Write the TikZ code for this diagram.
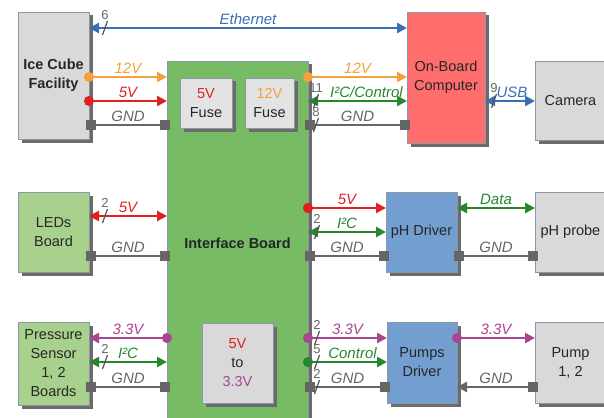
\documentclass[tikz,border=0pt]{standalone}
\usepackage{fontspec}
\setmainfont{Liberation Sans}
\usetikzlibrary{arrows.meta,shadows}
\definecolor{boxgray}{RGB}{217,217,217}
\definecolor{fusegray}{RGB}{227,227,227}
\definecolor{ibgreen}{RGB}{119,188,101}
\definecolor{brdgreen}{RGB}{169,209,142}
\definecolor{obcred}{RGB}{255,109,109}
\definecolor{drvblue}{RGB}{114,159,207}
\definecolor{pwr12}{RGB}{245,160,60}
\definecolor{pwr5}{RGB}{222,34,34}
\definecolor{pwr33}{RGB}{170,70,145}
\definecolor{sig}{RGB}{40,135,45}
\definecolor{net}{RGB}{60,110,180}
\definecolor{gnd}{RGB}{102,102,102}
\definecolor{edge}{RGB}{140,150,168}

\begin{document}
\begin{tikzpicture}[x=1pt, y=-1pt,
  blk/.style={rectangle, draw=edge, fill=#1, inner sep=1pt, outer sep=0pt,
              minimum width=71pt, minimum height=80pt,
              align=center, text=black!85, font=\fontsize{14.5}{19}\selectfont,
              drop shadow={shadow xshift=3.5pt, shadow yshift=-3.5pt, fill=black!58, opacity=1}},
  wr/.style={line width=2.5pt, draw=#1},
  pw/.style={wr=#1, {Circle[length=10pt]}-{Triangle[length=10pt, width=10pt]}, shorten <=-5pt},
  bi/.style={wr=#1, {Triangle[length=10pt, width=10pt]}-{Triangle[length=10pt, width=10pt]}},
  gd/.style={wr=gnd, {Square[length=10pt]}-{Square[length=10pt]}, shorten <=-3pt, shorten >=-3pt},
  lb/.style={above, inner sep=2pt, text=#1, font=\fontsize{15}{15}\selectfont\itshape},
  cnt/.style={text=gnd, inner sep=0pt, font=\fontsize{13}{13}\selectfont},
]
\useasboundingbox (0,0) rectangle (604,417);

% blocks
\node[blk=boxgray, minimum height=127pt, font=\fontsize{14.5}{19}\selectfont\bfseries]
    (ice) at (53.5,75.5) {Ice Cube\\Facility};
\node[blk=ibgreen, minimum width=141pt, minimum height=364pt,
      font=\fontsize{14.5}{19}\selectfont\bfseries] (ib) at (237.5,243) {Interface Board};
\node[blk=fusegray, minimum width=52pt, minimum height=50pt] (f5) at (206,103)
    {\textcolor{pwr5}{5V}\\Fuse};
\node[blk=fusegray, minimum width=49pt, minimum height=50pt] (f12) at (269.5,103)
    {\textcolor{pwr12}{12V}\\Fuse};
\node[blk=boxgray] (cnv) at (237.5,363) {\textcolor{pwr5}{5V}\\to\\\textcolor{pwr33}{3.3V}};
\node[blk=obcred, minimum width=78pt, minimum height=131pt] (obc) at (446,77.5) {On-Board\\Computer};
\node[blk=boxgray, minimum height=79pt] (cam) at (570.5,100.5) {Camera};
\node[blk=brdgreen] (led) at (53.5,232) {LEDs\\Board};
\node[blk=drvblue] (phd) at (421.5,232) {pH Driver};
\node[blk=boxgray] (php) at (570.5,232) {pH probe};
\node[blk=brdgreen, minimum height=83pt] (prs) at (53.5,363.5) {Pressure\\Sensor\\1, 2\\Boards};
\node[blk=drvblue, minimum width=70pt, minimum height=81pt] (pmd) at (422,362.5) {Pumps\\Driver};
\node[blk=boxgray, minimum height=81pt] (pmp) at (570.5,362.5) {Pump\\1, 2};

% top row
\draw[bi=net] (ice.east |- 0,28) -- node[lb=net] {Ethernet} (obc.west |- 0,28);
\draw[pw=pwr12] (ice.east |- 0,77) -- node[lb=pwr12] {12V} (ib.west |- 0,77);
\draw[pw=pwr5] (ice.east |- 0,101) -- node[lb=pwr5] {5V} (ib.west |- 0,101);
\draw[gd] (ice.east |- 0,125) -- node[lb=gnd] {GND} (ib.west |- 0,125);
\draw[pw=pwr12] (ib.east |- 0,77) -- node[lb=pwr12] {12V} (obc.west |- 0,77);
\draw[bi=sig] (ib.east |- 0,101) -- node[lb=sig, xshift=9pt] {I²C/Control} (obc.west |- 0,101);
\draw[gd] (ib.east |- 0,125) -- node[lb=gnd] {GND} (obc.west |- 0,125);
\draw[bi=net] (obc.east |- 0,101) -- node[lb=net, xshift=2pt] {USB} (cam.west |- 0,101);

% middle row
\draw[bi=pwr5] (led.east |- 0,216) -- node[lb=pwr5] {5V} (ib.west |- 0,216);
\draw[gd] (led.east |- 0,256) -- node[lb=gnd] {GND} (ib.west |- 0,256);
\draw[pw=pwr5] (ib.east |- 0,208) -- node[lb=pwr5] {5V} (phd.west |- 0,208);
\draw[bi=sig] (ib.east |- 0,232) -- node[lb=sig] {I²C} (phd.west |- 0,232);
\draw[gd] (ib.east |- 0,256) -- node[lb=gnd] {GND} (phd.west |- 0,256);
\draw[bi=sig] (phd.east |- 0,208) -- node[lb=sig] {Data} (php.west |- 0,208);
\draw[gd] (phd.east |- 0,256) -- node[lb=gnd] {GND} (php.west |- 0,256);

% bottom row
\draw[pw=pwr33] (ib.west |- 0,338) -- node[lb=pwr33] {3.3V} (prs.east |- 0,338);
\draw[bi=sig] (prs.east |- 0,362) -- node[lb=sig] {I²C} (ib.west |- 0,362);
\draw[gd] (prs.east |- 0,387) -- node[lb=gnd] {GND} (ib.west |- 0,387);
\draw[pw=pwr33] (ib.east |- 0,338) -- node[lb=pwr33] {3.3V} (pmd.west |- 0,338);
\draw[pw=sig] (ib.east |- 0,362) -- node[lb=sig, xshift=5pt] {Control} (pmd.west |- 0,362);
\draw[gd] (ib.east |- 0,387) -- node[lb=gnd] {GND} (pmd.west |- 0,387);
\draw[pw=pwr33] (pmd.east |- 0,338) -- node[lb=pwr33] {3.3V} (pmp.west |- 0,338);
\draw[wr=gnd, {Square[length=10pt]}-{Triangle[length=10pt, width=10pt]}, shorten <=-3pt]
    (pmp.west |- 0,387) -- node[lb=gnd] {GND} (pmd.east |- 0,387);

% wire counts
\foreach \sx/\sy/\sn in {105/28/6, 316/101/11, 316/125/8, 494/101/9, 105/216/2,
                         317/232/2, 105/362/2, 317/338/2, 317/362/5, 317/387/2}
{
  \draw[gnd!80!black, line width=1.2pt] (\sx+2.5,\sy-7) -- (\sx-2.5,\sy+7);
  \node[cnt] (cnt-\sx-\sy) at (\sx,\sy-13) {\sn};
}
\end{tikzpicture}
\end{document}
